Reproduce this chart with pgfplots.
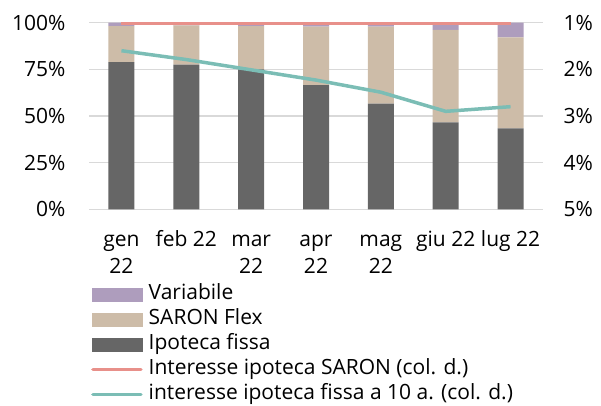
\documentclass[border=0pt]{standalone}
\usepackage{pgfplots}
\pgfplotsset{compat=1.18}
\usepackage{fontspec}
\setmainfont{Open Sans}
\definecolor{cfix}{HTML}{666666}
\definecolor{csar}{HTML}{CDBCA8}
\definecolor{cvar}{HTML}{AE9DBD}
\definecolor{cred}{HTML}{E8908A}
\definecolor{cteal}{HTML}{7BBDB5}
\definecolor{cgrid}{HTML}{D9D9D9}
\begin{document}
\begin{tikzpicture}
\begin{axis}[
  name=ax,
  scale only axis, width=454pt, height=186.6pt,
  xmin=-0.5, xmax=6.5, ymin=0, ymax=100,
  ybar stacked, bar width=26pt,
  axis line style={draw=none}, major tick length=0pt,
  ymajorgrids, grid style={cgrid, line width=1.5pt},
  xtick={0,1,2,3,4,5,6},
  xticklabels={{\strut gen\\22},{\strut feb 22},{\strut mar\\22},{\strut apr\\22},{\strut mag\\22},{\strut giu 22},{\strut lug 22}},
  xticklabel style={align=center, font=\fontsize{21}{27}\selectfont, anchor=north, yshift=-15pt},
  yticklabel style={font=\fontsize{21}{24}\selectfont, xshift=-20pt},
  ytick={0,25,50,75,100},
  yticklabels={0\%,25\%,50\%,75\%,100\%},
  legend style={at={(0,0)}, anchor=north west, xshift=2pt, yshift=-76pt, draw=none, fill=none,
    inner sep=0pt, font=\fontsize{21}{24}\selectfont, row sep=7.5pt,
    nodes={inner sep=0pt, text height=14pt, text depth=3.5pt},
    /tikz/every odd column/.append style={column sep=6pt}},
  legend cell align=left,
]
\addplot[fill=cfix, draw=none, forget plot] coordinates {(0,78.9) (1,77.5) (2,75.0) (3,66.6) (4,56.6) (5,46.6) (6,43.4)};
\addplot[fill=csar, draw=none, forget plot] coordinates {(0,19.3) (1,21.1) (2,23.2) (3,31.3) (4,41.3) (5,49.5) (6,48.8)};
\addplot[fill=cvar, draw=none, forget plot] coordinates {(0,1.8) (1,1.4) (2,1.8) (3,2.1) (4,2.1) (5,3.9) (6,7.8)};
\addlegendimage{legend image code/.code={\fill[cvar] (0pt,-6.5pt) rectangle (50pt,6.5pt);}}
\addlegendentry{Variabile}
\addlegendimage{legend image code/.code={\fill[csar] (0pt,-6.5pt) rectangle (50pt,6.5pt);}}
\addlegendentry{SARON Flex}
\addlegendimage{legend image code/.code={\fill[cfix] (0pt,-6.5pt) rectangle (50pt,6.5pt);}}
\addlegendentry{Ipoteca fissa}
\addlegendimage{legend image code/.code={\draw[cred, line width=3.5pt, line cap=round] (1pt,0pt) -- (49pt,0pt);}}
\addlegendentry{Interesse ipoteca SARON (col. d.)}
\addlegendimage{legend image code/.code={\draw[cteal, line width=3.5pt, line cap=round] (1pt,0pt) -- (49pt,0pt);}}
\addlegendentry{interesse ipoteca fissa a 10 a. (col. d.)}
\end{axis}
\begin{axis}[
  scale only axis, width=454pt, height=186.6pt,
  xmin=-0.5, xmax=6.5, ymin=1, ymax=5, y dir=reverse,
  axis x line=none, axis y line*=right,
  axis line style={draw=none}, major tick length=0pt,
  ytick={1,2,3,4,5},
  yticklabels={1\%,2\%,3\%,4\%,5\%},
  yticklabel style={anchor=west, xshift=17pt, font=\fontsize{21}{24}\selectfont},
]
\addplot[cred, line width=3.5pt, no markers] coordinates {(0,1.01) (1,1.01) (2,1.01) (3,1.01) (4,1.01) (5,1.01) (6,1.01)};
\addplot[cteal, line width=3.5pt, no markers] coordinates {(0,1.60) (1,1.79) (2,2.01) (3,2.23) (4,2.49) (5,2.90) (6,2.80)};
\end{axis}
\pgfresetboundingbox
\path (-89pt,-195.7pt) rectangle (512pt,209.3pt);
\end{tikzpicture}
\end{document}
